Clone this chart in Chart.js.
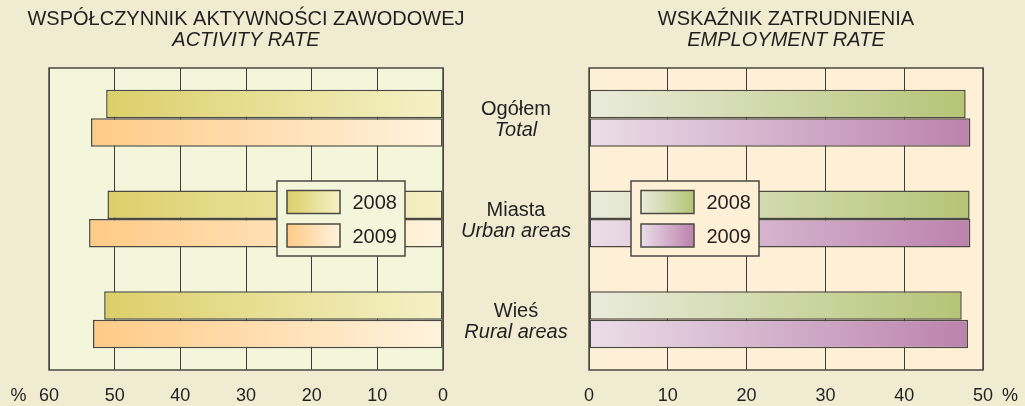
<!DOCTYPE html>
<html><head><meta charset="utf-8">
<script src="https://cdn.jsdelivr.net/npm/chart.js@4/dist/chart.umd.min.js"></script>
<style>
html,body{margin:0;padding:0;background:#F1EBD1;}
body{width:1025px;height:406px;position:relative;overflow:hidden;}
canvas{position:absolute;left:0;top:0;}
</style></head><body>
<canvas id="c1" width="1025" height="406"></canvas>
<canvas id="c2" width="1025" height="406"></canvas>
<script>
// ---- data ----
const categories = ['Ogółem', 'Miasta', 'Wieś'];
const categoriesEn = ['Total', 'Urban areas', 'Rural areas'];
const seriesNames = ['2008', '2009'];
const activity2008 = [51.3, 51.1, 51.6];
const activity2009 = [53.6, 53.9, 53.3];
const employment2008 = [47.8, 48.3, 47.3];
const employment2009 = [48.4, 48.4, 48.1];
const activityTicks = [0, 10, 20, 30, 40, 50, 60];
const employmentTicks = [0, 10, 20, 30, 40, 50];
const titleLeft = 'WSPÓŁCZYNNIK AKTYWNOŚCI ZAWODOWEJ';
const subtitleLeft = 'ACTIVITY RATE';
const titleRight = 'WSKAŹNIK ZATRUDNIENIA';
const subtitleRight = 'EMPLOYMENT RATE';
const unitLabel = '%';

// ---- styling ----
const FONT = "'Liberation Sans', Arial, Helvetica, sans-serif";
const TEXT = '#231F20';
const GRID = '#3d3c38';
const FRAME = '#4a4843';
const BAR_BORDER = '#4b4a42';
Chart.defaults.font.family = FONT;
Chart.defaults.color = TEXT;

const leftStops = [['#F5F1C6', '#DCCF69'], ['#FFF3DE', '#FFCA86']];
const rightStops = [['#E9ECDC', '#B6C476'], ['#EBDDE9', '#BB82AD']];

function barGradient(stops) {
  return function (ctx) {
    const chart = ctx.chart;
    if (!chart.chartArea || ctx.type !== 'data') return stops[1];
    const xs = chart.scales.x;
    const x0 = xs.getPixelForValue(0), x1 = xs.getPixelForValue(ctx.raw);
    const g = chart.ctx.createLinearGradient(x0, 0, x1, 0);
    g.addColorStop(0, stops[0]);
    g.addColorStop(1, stops[1]);
    return g;
  };
}

const areaPlugin = {
  id: 'areaDeco',
  beforeDraw(chart, args, opts) {
    const a = chart.chartArea, c = chart.ctx;
    c.save();
    c.fillStyle = opts.bg;
    c.fillRect(a.left, a.top, a.right - a.left, a.bottom - a.top);
    c.restore();
  },
  beforeDatasetsDraw(chart) {
    const a = chart.chartArea, c = chart.ctx;
    c.save();
    c.strokeStyle = FRAME;
    c.lineWidth = 1.5;
    c.strokeRect(a.left, a.top, a.right - a.left, a.bottom - a.top);
    c.restore();
  },
  afterDatasetsDraw(chart, args, opts) {
    const a = chart.chartArea, c = chart.ctx;
    // legend box
    const bx = a.left + opts.legendDx, by = a.top + opts.legendDy, bw = 128, bh = 75;
    c.save();
    c.fillStyle = opts.bg;
    c.fillRect(bx, by, bw, bh);
    c.strokeStyle = FRAME;
    c.lineWidth = 1.5;
    c.strokeRect(bx, by, bw, bh);
    chart.data.datasets.forEach((ds, i) => {
      const sx = bx + 10, sy = by + 9.5 + i * 33.5, sw = 53, sh = 23;
      const st = opts.stops[i];
      const g = c.createLinearGradient(opts.reverse ? sx + sw : sx, 0, opts.reverse ? sx : sx + sw, 0);
      g.addColorStop(0, st[0]);
      g.addColorStop(1, st[1]);
      c.fillStyle = g;
      c.fillRect(sx, sy, sw, sh);
      c.strokeStyle = BAR_BORDER;
      c.lineWidth = 1.5;
      c.strokeRect(sx, sy, sw, sh);
      c.fillStyle = TEXT;
      c.font = '20px ' + FONT;
      c.textAlign = 'left';
      c.textBaseline = 'alphabetic';
      c.fillText(ds.label, bx + 75.5, by + 28 + i * 34);
    });
    c.restore();
  },
  afterDraw(chart, args, opts) {
    const a = chart.chartArea, c = chart.ctx;
    c.save();
    c.fillStyle = TEXT;
    c.font = '18px ' + FONT;
    c.textAlign = 'center';
    c.textBaseline = 'middle';
    c.fillText(unitLabel, opts.unitX, a.bottom + 15 + 10.8);
    if (opts.categoryLabels) {
      const ys = chart.scales.y;
      const cx = a.left - 73;
      c.textBaseline = 'alphabetic';
      categories.forEach((lab, i) => {
        const y = ys.getPixelForValue(i);
        c.font = '20px ' + FONT;
        c.fillText(lab, cx, y - 3);
        c.font = 'italic 20px ' + FONT;
        c.fillText(categoriesEn[i], cx, y + 18);
      });
    }
    c.restore();
  }
};

function makeTitle(text, italic) {
  return {
    display: true,
    text: text,
    color: TEXT,
    font: { family: FONT, size: 20, weight: 'normal', style: italic ? 'italic' : 'normal', lineHeight: 1.05 },
    padding: italic ? { top: 0, bottom: 17.5 } : { top: 8.5, bottom: 0 }
  };
}

function xScale(ticksArr, reverse) {
  return {
    type: 'linear',
    reverse: reverse,
    min: ticksArr[0],
    max: ticksArr[ticksArr.length - 1],
    afterBuildTicks: s => { s.ticks = ticksArr.map(v => ({ value: v })); },
    afterFit: s => { s.height = 36; },
    grid: { color: GRID, lineWidth: 1, drawTicks: false },
    border: { display: false },
    ticks: { color: TEXT, font: { size: 18 }, padding: 15, maxRotation: 0 }
  };
}

function spacer(pos) {
  return {
    type: 'category', position: pos, display: true,
    ticks: { display: false }, grid: { display: false }, border: { display: false },
    afterFit: s => { s.width = 49; }
  };
}

const common = {
  responsive: false,
  animation: false,
  indexAxis: 'y',
  events: []
};

new Chart(document.getElementById('c1'), {
  type: 'bar',
  data: {
    labels: categories,
    datasets: [
      { label: seriesNames[0], data: activity2008, backgroundColor: barGradient(leftStops[0]) },
      { label: seriesNames[1], data: activity2009, backgroundColor: barGradient(leftStops[1]) }
    ].map(d => Object.assign(d, { borderColor: BAR_BORDER, borderWidth: 1.5, borderSkipped: false, categoryPercentage: 0.566, barPercentage: 1 }))
  },
  options: Object.assign({}, common, {
    layout: { padding: { left: 0, right: 533, top: 0, bottom: 0 } },
    scales: {
      x: xScale(activityTicks, true),
      y: spacer('left'),
      y2: spacer('right')
    },
    plugins: {
      legend: { display: false },
      tooltip: { enabled: false },
      title: makeTitle(titleLeft, false),
      subtitle: makeTitle(subtitleLeft, true),
      areaDeco: { bg: '#F3F6DA', legendDx: 228, legendDy: 113, stops: leftStops, reverse: true, unitX: 18.5, categoryLabels: false }
    }
  }),
  plugins: [areaPlugin]
});

new Chart(document.getElementById('c2'), {
  type: 'bar',
  data: {
    labels: categories,
    datasets: [
      { label: seriesNames[0], data: employment2008, backgroundColor: barGradient(rightStops[0]) },
      { label: seriesNames[1], data: employment2009, backgroundColor: barGradient(rightStops[1]) }
    ].map(d => Object.assign(d, { borderColor: BAR_BORDER, borderWidth: 1.5, borderSkipped: false, categoryPercentage: 0.566, barPercentage: 1 }))
  },
  options: Object.assign({}, common, {
    layout: { padding: { left: 589, right: 42, top: 0, bottom: 0 } },
    scales: {
      x: xScale(employmentTicks, false),
      y: { type: 'category', display: false }
    },
    plugins: {
      legend: { display: false },
      tooltip: { enabled: false },
      title: makeTitle(titleRight, false),
      subtitle: makeTitle(subtitleRight, true),
      areaDeco: { bg: '#FEF0D6', legendDx: 42, legendDy: 113, stops: rightStops, reverse: false, unitX: 1010, categoryLabels: true }
    }
  }),
  plugins: [areaPlugin]
});
</script>
</body></html>
